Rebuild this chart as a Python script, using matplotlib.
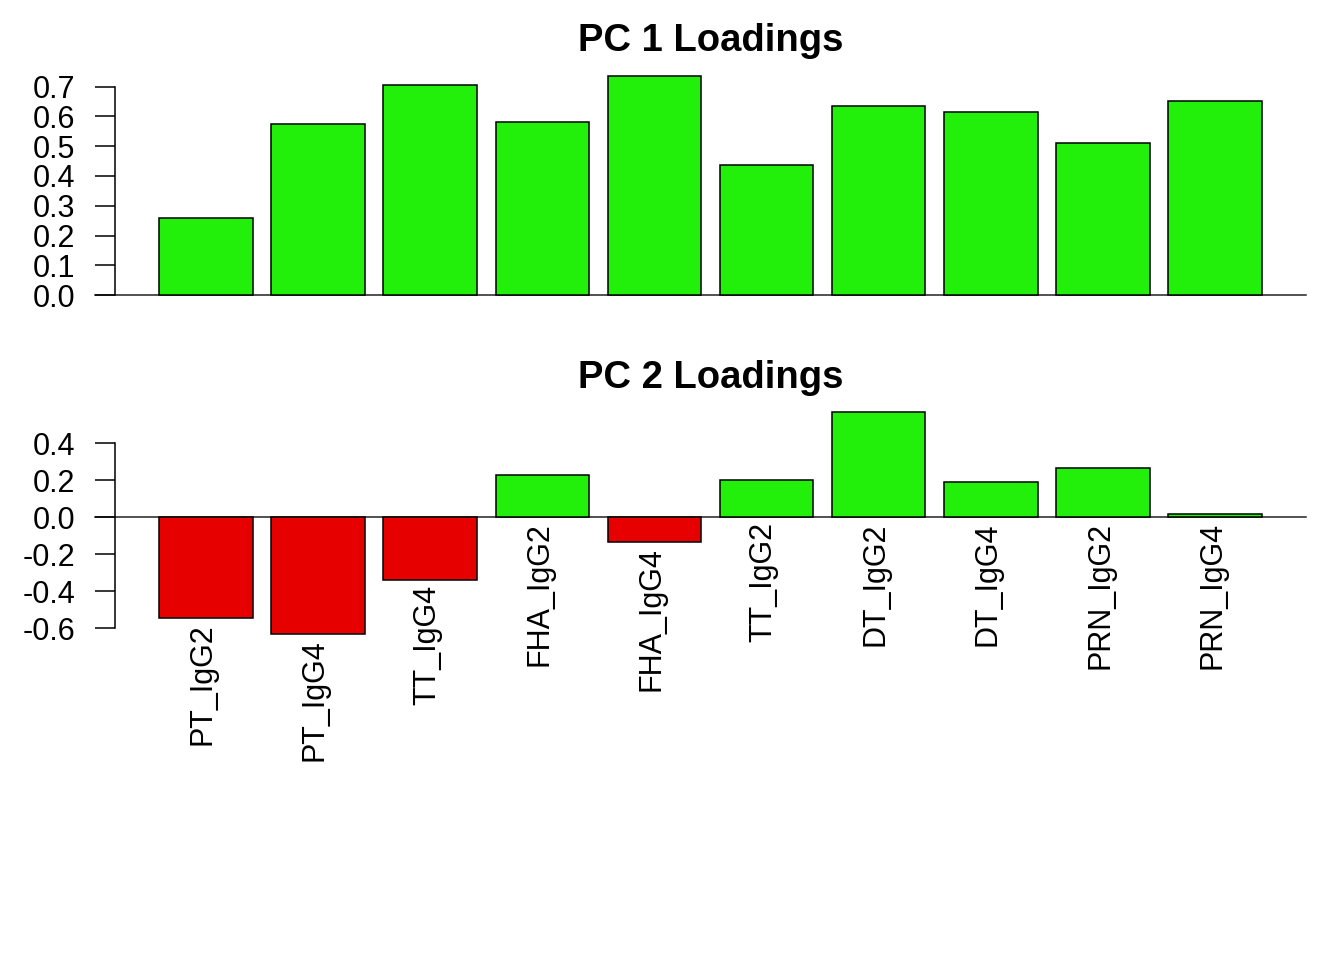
import matplotlib
matplotlib.use("Agg")
import matplotlib.pyplot as plt
import matplotlib.transforms as mtrans
import numpy as np

plt.rcParams['font.family'] = ['Liberation Sans', 'DejaVu Sans']
plt.rcParams['axes.unicode_minus'] = False

labels = ["PT_IgG2", "PT_IgG4", "TT_IgG4", "FHA_IgG2", "FHA_IgG4",
          "TT_IgG2", "DT_IgG2", "DT_IgG4", "PRN_IgG2", "PRN_IgG4"]
pc1 = [0.260, 0.574, 0.706, 0.581, 0.736, 0.437, 0.635, 0.615, 0.511, 0.652]
pc2 = [-0.545, -0.630, -0.338, 0.228, -0.133, 0.201, 0.568, 0.191, 0.266, 0.018]
pc1_ticks = [0.0, 0.1, 0.2, 0.3, 0.4, 0.5, 0.6, 0.7]
pc2_ticks = [-0.6, -0.4, -0.2, 0.0, 0.2, 0.4]

GREEN = "#22F00A"
RED = "#E60000"
W, H = 1344, 960
fig = plt.figure(figsize=(W/100, H/100), dpi=100)

x = 0.7 + 1.2*np.arange(len(labels))
left_px, right_px = 115, 1306

def make_ax(top_px, bot_px):
    return fig.add_axes([left_px/W, 1-bot_px/H, (right_px-left_px)/W, (bot_px-top_px)/H])

def style(ax, vals, ticks, fmt):
    cols = [GREEN if v >= 0 else RED for v in vals]
    ax.bar(x, vals, width=1.0, color=cols, edgecolor="black", linewidth=1.1)
    ax.set_xlim(-0.272, 12.472)
    lo = min(0, min(vals)); hi = max(vals)
    ax.set_ylim(lo - 0.04*(hi-lo), hi + 0.04*(hi-lo))
    for s in ['top', 'right', 'bottom']:
        ax.spines[s].set_visible(False)
    ax.spines['left'].set_bounds(ticks[0], ticks[-1])
    ax.spines['left'].set_linewidth(1.1)
    ax.set_yticks(ticks)
    ax.set_yticklabels([fmt % t for t in ticks])
    ax.tick_params(axis='y', length=14.4, width=1.1, pad=14, labelsize=22)
    ax.set_xticks([])
    ax.plot([-(20/(right_px-left_px)), 1.0], [0, 0], color="#222222", lw=1.1,
            transform=ax.get_yaxis_transform(), clip_on=False, zorder=0.5)

ax1 = make_ax(67.2, 303.8)
style(ax1, pc1, pc1_ticks, "%.1f")
ax2 = make_ax(403.1, 642.9)
style(ax2, pc2, pc2_ticks, "%.1f")

cx = (left_px + right_px)/2/W
fig.text(cx, 1-51/H, "PC 1 Loadings", ha='center', va='baseline', fontsize=27.5, fontweight='bold')
fig.text(cx, 1-388/H, "PC 2 Loadings", ha='center', va='baseline', fontsize=27.5, fontweight='bold')

off = mtrans.offset_copy(ax2.transData, fig=fig, x=-3, y=-5, units='dots')
for xi, v, lab in zip(x, pc2, labels):
    ax2.text(xi, min(0, v), lab, rotation=90, ha='center', va='top',
             fontsize=22, transform=off)

fig.savefig("out.png", dpi=100)
